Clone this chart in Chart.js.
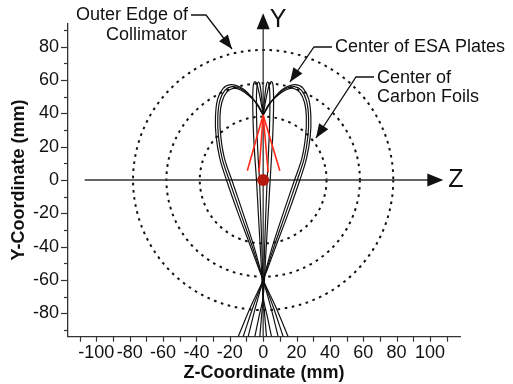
<!DOCTYPE html>
<html>
<head>
<meta charset="utf-8">
<script src="https://cdn.jsdelivr.net/npm/chart.js@4.4.0/dist/chart.umd.min.js"></script>
<style>
html, body { margin: 0; padding: 0; background: #fff; }
#wrap { width: 513px; height: 384px; }
</style>
</head>
<body>
<div id="wrap"><canvas id="myChart" width="513" height="384"></canvas></div>
<script>
//-------------Data (mm)-----------------
var zTickLabels = [-100, -80, -60, -40, -20, 0, 20, 40, 60, 80, 100];
var yTickLabels = [-80, -60, -40, -20, 0, 20, 40, 60, 80];

// dotted circles: carbon foils, ESA plates, collimator edge
var circleRadii = [38, 58, 78];

// wide lobes, [Z, Y]
var lobeLeft1 = [[0,39],[-4.5,46.5],[-9.5,52.5],[-14.5,56],[-19.5,57.2],[-24,55],[-27.3,48.5],[-28.6,38],[-28.2,26],[-26,13],[-22,0],[-15,-20],[-7.5,-40],[0,-60],[7.5,-76],[15,-94]];
var lobeLeft2 = [[0,39],[-4,46],[-9,51.5],[-14,55],[-18.8,56],[-23,53.8],[-26,47.5],[-27.2,38],[-26.8,26],[-24.6,13],[-20.4,0],[-13.5,-20],[-6.5,-40],[0,-60],[6,-76],[12,-94]];
var lobeLeft3 = [[0,39],[-3.5,45.5],[-8.5,50.5],[-13.5,54],[-18,55],[-22,52.6],[-24.8,46.5],[-25.9,38],[-25.4,26],[-23.2,13],[-18.8,0],[-12,-20],[-5.5,-40],[0,-60],[4.5,-76],[9,-94]];
var lobeRight1 = [[0,39],[4.5,46.5],[9.5,52.5],[14.5,56],[19.5,57.2],[24,55],[27.3,48.5],[28.6,38],[28.2,26],[26,13],[22,0],[15,-20],[7.5,-40],[0,-60],[-7.5,-76],[-15,-94]];
var lobeRight2 = [[0,39],[4,46],[9,51.5],[14,55],[18.8,56],[23,53.8],[26,47.5],[27.2,38],[26.8,26],[24.6,13],[20.4,0],[13.5,-20],[6.5,-40],[0,-60],[-6,-76],[-12,-94]];
var lobeRight3 = [[0,39],[3.5,45.5],[8.5,50.5],[13.5,54],[18,55],[22,52.6],[24.8,46.5],[25.9,38],[25.4,26],[23.2,13],[18.8,0],[12,-20],[5.5,-40],[0,-60],[-4.5,-76],[-9,-94]];

// narrow petals near the axis
var petalLeft1 = [[0,39],[-1.2,46],[-2.6,53],[-3.8,57.6],[-4.9,59],[-5.8,57.5],[-6.2,52],[-6.2,42],[-5.8,28],[-5,14],[-4,0],[-2.8,-22],[-1.4,-46],[0,-70],[2.5,-82],[5,-94]];
var petalLeft2 = [[0,39],[-0.6,46],[-1.3,53],[-2,57.3],[-2.8,58.8],[-3.6,57],[-4,51],[-4,40],[-3.6,26],[-3,13],[-2.2,0],[-1.4,-22],[-0.6,-46],[0,-70],[1,-82],[2,-94]];
var petalRight2 = [[0,39],[0.6,46],[1.3,53],[2,57.3],[2.8,58.8],[3.6,57],[4,51],[4,40],[3.6,26],[3,13],[2.4,0],[1.5,-22],[0.7,-46],[0,-70],[-1,-82],[-2,-94]];
var petalRight1 = [[0,39],[1.2,46],[2.6,53],[3.8,57.6],[4.9,59],[5.8,57.5],[6.2,52],[6.2,42],[5.8,28],[5,14],[4.2,0],[2.9,-22],[1.5,-46],[0,-70],[-2.5,-82],[-5,-94]];

// red rays from the focus
var rayStart = [0, 39];
var rayEnds = [[-9.5, 5.5], [-2.5, 4.5], [3, 4.5], [10, 5.5]];
var sourcePoint = [0, 0];

var FONT = 'Arial, "Liberation Sans", sans-serif';

function toXY(arr) {
    return arr.map(function (p) { return {x: p[0], y: p[1]}; });
}

//-----------Drawing helpers------------
function ArrowHead(ctx, x0, y0, x1, y1, len, half) {
    var a = Math.atan2(y1 - y0, x1 - x0);
    var bx = x1 - len * Math.cos(a), by = y1 - len * Math.sin(a);
    ctx.beginPath();
    ctx.moveTo(x1, y1);
    ctx.lineTo(bx + half * Math.sin(a), by - half * Math.cos(a));
    ctx.lineTo(bx - half * Math.sin(a), by + half * Math.cos(a));
    ctx.closePath();
    ctx.fill();
}

function Leader(ctx, pts) {
    ctx.beginPath();
    ctx.moveTo(pts[0][0], pts[0][1]);
    for (var i = 1; i < pts.length; i++) ctx.lineTo(pts[i][0], pts[i][1]);
    ctx.stroke();
    var n = pts.length;
    ArrowHead(ctx, pts[n - 2][0], pts[n - 2][1], pts[n - 1][0], pts[n - 1][1], 14, 5.5);
}

var decorPlugin = {
    id: 'decor',
    beforeDatasetsDraw: function (chart) {
        var ctx = chart.ctx, sx = chart.scales.x, sy = chart.scales.y;
        var cx = sx.getPixelForValue(0), cy = sy.getPixelForValue(0);
        ctx.save();
        // dotted circles
        ctx.strokeStyle = '#111';
        ctx.lineWidth = 2;
        ctx.setLineDash([2.6, 4.6]);
        circleRadii.forEach(function (r) {
            var rp = sx.getPixelForValue(r) - cx;
            ctx.beginPath();
            ctx.arc(cx, cy, rp, 0, Math.PI * 2);
            ctx.stroke();
        });
        ctx.setLineDash([]);
        // Z and Y axes with arrows
        ctx.strokeStyle = '#333';
        ctx.fillStyle = '#111';
        ctx.lineWidth = 1.3;
        var zx0 = sx.getPixelForValue(-107), zx1 = sx.getPixelForValue(108);
        ctx.beginPath(); ctx.moveTo(zx0, cy); ctx.lineTo(zx1 - 8, cy); ctx.stroke();
        ArrowHead(ctx, zx0, cy, zx1, cy, 16, 6.5);
        var yy0 = sy.getPixelForValue(-94), yy1 = sy.getPixelForValue(100);
        ctx.beginPath(); ctx.moveTo(cx, yy0); ctx.lineTo(cx, yy1 + 8); ctx.stroke();
        ArrowHead(ctx, cx, yy0, cx, yy1, 16, 6.5);
        ctx.restore();
    },
    afterDraw: function (chart) {
        var ctx = chart.ctx, sx = chart.scales.x, sy = chart.scales.y;
        var area = chart.chartArea;
        ctx.save();
        // tick marks
        ctx.strokeStyle = '#333';
        ctx.lineWidth = 1.2;
        sx.ticks.forEach(function (t) {
            var px = Math.round(sx.getPixelForValue(t.value)) + 0.5;
            ctx.beginPath(); ctx.moveTo(px, area.bottom); ctx.lineTo(px, area.bottom + 5); ctx.stroke();
        });
        sy.ticks.forEach(function (t) {
            var py = Math.round(sy.getPixelForValue(t.value)) + 0.5;
            var len = yTickLabels.indexOf(t.value) >= 0 ? 7 : 4;
            ctx.beginPath(); ctx.moveTo(area.left - len, py); ctx.lineTo(area.left, py); ctx.stroke();
        });

        // axis letters
        ctx.fillStyle = '#111';
        ctx.textAlign = 'center';
        ctx.textBaseline = 'middle';
        ctx.font = '25px ' + FONT;
        ctx.fillText('Y', 278, 20);
        ctx.fillText('Z', 456, 180);

        // callouts
        ctx.font = '18px ' + FONT;
        ctx.textAlign = 'right';
        ctx.fillText('Outer Edge of', 188, 15);
        ctx.fillText('Collimator', 187, 35);
        ctx.textAlign = 'left';
        ctx.fillText('Center of ESA Plates', 335, 47);
        ctx.fillText('Center of', 377, 78);
        ctx.fillText('Carbon Foils', 377, 97);

        ctx.strokeStyle = '#111';
        ctx.lineWidth = 1.3;
        Leader(ctx, [[191, 15], [206, 15], [232, 49]]);
        Leader(ctx, [[332, 47], [314, 47], [290, 82]]);
        Leader(ctx, [[374, 77], [356, 77], [316, 138]]);
        ctx.restore();
    }
};

//-----------Chart------------
function BuildChart() {
    var ctx = document.getElementById('myChart').getContext('2d');
    var datasets = [];

    datasets.push({
        data: toXY([sourcePoint]),
        showLine: false,
        pointRadius: 6,
        pointBackgroundColor: '#b3190d',
        pointBorderWidth: 0
    });
    rayEnds.forEach(function (e) {
        datasets.push({
            data: toXY([rayStart, e]),
            showLine: true,
            borderColor: '#ff2a1a',
            borderWidth: 1.6,
            pointRadius: 0,
            tension: 0
        });
    });
    [lobeLeft1, lobeLeft2, lobeLeft3, lobeRight1, lobeRight2, lobeRight3,
     petalLeft1, petalLeft2, petalRight2, petalRight1].forEach(function (tr) {
        datasets.push({
            data: toXY(tr),
            showLine: true,
            borderColor: '#111',
            borderWidth: 1.2,
            pointRadius: 0,
            tension: 0.35
        });
    });

    var myChart = new Chart(ctx, {
        type: 'scatter',
        data: {datasets: datasets},
        options: {
            responsive: false,
            animation: false,
            devicePixelRatio: 1,
            layout: {padding: {top: 23.3, right: 53, left: 0, bottom: 0}},
            plugins: {legend: {display: false}, tooltip: {enabled: false}},
            scales: {
                x: {
                    type: 'linear',
                    min: -117,
                    max: 118,
                    afterFit: function (s) { s.height = 47.3; },
                    ticks: {
                        stepSize: 10,
                        includeBounds: false,
                        autoSkip: false,
                        maxRotation: 0,
                        padding: 1,
                        color: '#111',
                        font: {family: FONT, size: 18},
                        callback: function (v) { return zTickLabels.indexOf(v) >= 0 ? String(v) : ''; }
                    },
                    grid: {drawOnChartArea: false, drawTicks: true, tickLength: 5, color: 'rgba(0,0,0,0)', tickColor: 'rgba(0,0,0,0)'},
                    border: {display: true, color: '#333', width: 1.3},
                    title: {
                        display: true,
                        text: 'Z-Coordinate (mm)',
                        color: '#111',
                        font: {family: FONT, size: 18, weight: 'bold'},
                        padding: {top: 0, bottom: 0}
                    }
                },
                y: {
                    type: 'linear',
                    min: -94,
                    max: 94,
                    afterFit: function (s) { s.width = 68; },
                    ticks: {
                        stepSize: 10,
                        includeBounds: false,
                        autoSkip: false,
                        padding: 2,
                        color: '#111',
                        font: {family: FONT, size: 18},
                        callback: function (v) { return yTickLabels.indexOf(v) >= 0 ? String(v) : ''; }
                    },
                    grid: {drawOnChartArea: false, drawTicks: true, tickLength: 7, color: 'rgba(0,0,0,0)', tickColor: 'rgba(0,0,0,0)'},
                    border: {display: true, color: '#333', width: 1.3},
                    title: {
                        display: true,
                        text: 'Y-Coordinate (mm)',
                        color: '#111',
                        font: {family: FONT, size: 18, weight: 'bold'},
                        padding: {top: 8, bottom: 0}
                    }
                }
            }
        },
        plugins: [decorPlugin]
    });
    return myChart;
}

BuildChart();
</script>
</body>
</html>
